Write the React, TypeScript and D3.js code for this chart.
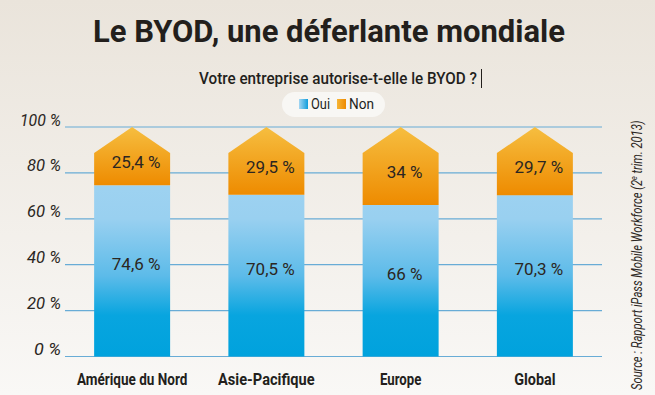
import * as d3 from 'd3';

const categories = ['Amérique du Nord', 'Asie-Pacifique', 'Europe', 'Global'];
const oui = [74.6, 70.5, 66, 70.3];
const non = [25.4, 29.5, 34, 29.7];
const ouiLabels = ['74,6 %', '70,5 %', '66 %', '70,3 %'];
const nonLabels = ['25,4 %', '29,5 %', '34 %', '29,7 %'];
const yTicks = [0, 20, 40, 60, 80, 100];
const legendItems = ['Oui', 'Non'];

const W = 655;
const H = 395;
const cond = "'Roboto', 'Liberation Sans', sans-serif";

export default function App() {
  const x = d3.scaleBand().domain(categories).range([65, 602]).paddingInner(0.434).paddingOuter(0.217);
  const y = d3.scaleLinear().domain([0, 100]).range([356.5, 127]);
  const bw = x.bandwidth();
  const peak = 26;

  const house = (i: number) => {
    const x0 = x(categories[i])!;
    const top = y(oui[i] + non[i]);
    const p = d3.path();
    p.moveTo(x0, y(oui[i]));
    p.lineTo(x0, top + peak);
    p.lineTo(x0 + bw / 2, top);
    p.lineTo(x0 + bw, top + peak);
    p.lineTo(x0 + bw, y(oui[i]));
    p.closePath();
    return p.toString();
  };

  return (
    <svg width={W} height={H} style={{ position: 'fixed', left: 0, top: 0, display: 'block' }}>
      <defs>
        <linearGradient id="bg" x1="0" y1="0" x2="0" y2="1">
          <stop offset="0" stopColor="#eae4db" />
          <stop offset="1" stopColor="#f9f8f6" />
        </linearGradient>
        <linearGradient id="blue" gradientUnits="userSpaceOnUse" x1="0" x2="0" y1={y(100)} y2={y(0)}>
          <stop offset="0" stopColor="#a6d6f2" />
          <stop offset="0.4" stopColor="#99d0f0" />
          <stop offset="0.65" stopColor="#5cbbe9" />
          <stop offset="0.82" stopColor="#08a5df" />
          <stop offset="1" stopColor="#00a2dd" />
        </linearGradient>
        <linearGradient id="orange" x1="0" y1="0" x2="0" y2="1">
          <stop offset="0" stopColor="#f6be40" />
          <stop offset="1" stopColor="#ee8b00" />
        </linearGradient>
        <linearGradient id="legBlue" x1="0" y1="0" x2="1" y2="0">
          <stop offset="0" stopColor="#a4d6f2" />
          <stop offset="1" stopColor="#0f9ddc" />
        </linearGradient>
        <linearGradient id="legOrange" x1="0" y1="0" x2="1" y2="0">
          <stop offset="0" stopColor="#f6b535" />
          <stop offset="1" stopColor="#ee8a00" />
        </linearGradient>
      </defs>
      <rect width={W} height={H} fill="url(#bg)" />

      <text x={93} y={42} fontFamily={cond} fontWeight={700} fontSize={31} fill="#231f1c"
        textLength={472} lengthAdjust="spacingAndGlyphs">Le BYOD, une déferlante mondiale</text>
      <text x={199} y={84} fontFamily={cond} fontWeight={500} fontSize={16.5} fill="#231f1c"
        textLength={278} lengthAdjust="spacingAndGlyphs">Votre entreprise autorise-t-elle le BYOD ?</text>
      <line x1={481.5} x2={481.5} y1={69} y2={88} stroke="#231f1c" strokeWidth={1} />

      {/* legend */}
      <rect x={282} y={92} width={103} height={25} rx={12.5} fill="#f8f7f4" />
      {legendItems.map((t, i) => (
        <g key={t} transform={`translate(${i === 0 ? 299 : 337},99)`}>
          <rect width={9} height={10} fill={i === 0 ? 'url(#legBlue)' : 'url(#legOrange)'} />
          <text x={12} y={10} fontFamily={cond} fontSize={14.5} fill="#231f1c"
            textLength={i === 0 ? 19 : 25} lengthAdjust="spacingAndGlyphs">{t}</text>
        </g>
      ))}

      {/* grid + y axis */}
      {yTicks.map(t => (
        <g key={t}>
          <line x1={65} x2={602} y1={y(t)} y2={y(t)} stroke="#68acd6" strokeWidth={1.2} />
          <text x={61} y={y(t) - 1.5} textAnchor="end" fontFamily={cond} fontStyle="italic" fontSize={16}
            fill="#2b2622" textLength={t === 100 ? 41 : t === 0 ? 27 : 34} lengthAdjust="spacingAndGlyphs">{`${t} %`}</text>
        </g>
      ))}

      {/* bars */}
      {categories.map((c, i) => {
        const x0 = x(c)!;
        const cx = x0 + bw / 2;
        return (
          <g key={c}>
            <rect x={x0} y={y(oui[i])} width={bw} height={y(0) - y(oui[i])} fill="url(#blue)" />
            <path d={house(i)} fill="url(#orange)" />
            <text x={cx + 4} y={y(oui[i] / 2) - 1} textAnchor="middle" fontFamily={cond} fontSize={17}
              fill="#2b2622">{ouiLabels[i]}</text>
            <text x={cx + 4} y={y((oui[i] + 100) / 2) + 12} textAnchor="middle" fontFamily={cond} fontSize={17}
              fill="#2b2622">{nonLabels[i]}</text>
            <text x={cx} y={384.5} textAnchor="middle" fontFamily={cond} fontWeight={700} fontSize={16.5}
              fill="#231f1c" textLength={c.length * 6.9} lengthAdjust="spacingAndGlyphs">{c}</text>
          </g>
        );
      })}

      {/* source, squeezed to look condensed */}
      <text transform="translate(642,390) rotate(-90) scale(0.8,1)" fontFamily={cond} fontStyle="italic" fontSize={14}
        fill="#2b2622">
        Source : Rapport iPass Mobile Workforce  (2<tspan dy={-5} fontSize={9}>e</tspan><tspan dy={5}> trim. 2013)</tspan>
      </text>
    </svg>
  );
}
